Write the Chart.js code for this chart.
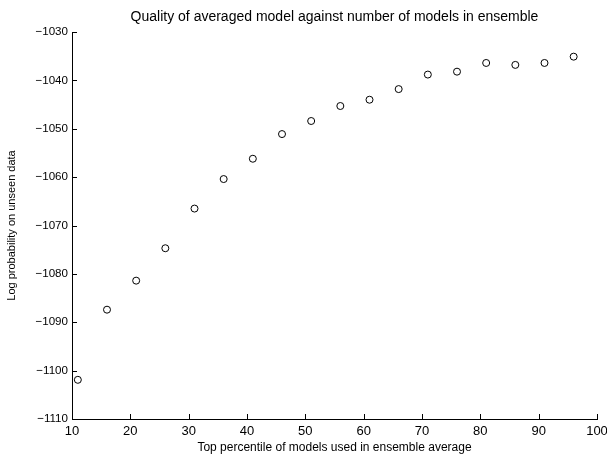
<!DOCTYPE html>
<html>
<head>
<meta charset="utf-8">
<script src="https://cdn.jsdelivr.net/npm/chart.js@4.4.1/dist/chart.umd.min.js"></script>
<style>
  html, body { margin: 0; padding: 0; background: #fff; }
  #wrap { width: 607px; height: 459px; }
</style>
</head>
<body>
<div id="wrap"><canvas id="chart" width="607" height="459"></canvas></div>
<script>
var percentiles = [11, 16, 21, 26, 31, 36, 41, 46, 51, 56, 61, 66, 71, 76, 81, 86, 91, 96];
var logProb = [-1101.9, -1087.4, -1081.4, -1074.7, -1066.5, -1060.4, -1056.2, -1051.1, -1048.4,
  -1045.3, -1044.0, -1041.8, -1038.8, -1038.2, -1036.4, -1036.8, -1036.4, -1035.1];
var xTicks = [10, 20, 30, 40, 50, 60, 70, 80, 90, 100];
var yTicks = [-1110, -1100, -1090, -1080, -1070, -1060, -1050, -1040, -1030];

var fontFamily = "'Liberation Sans', Arial, Helvetica, sans-serif";

var points = percentiles.map(function (p, i) { return { x: p, y: logProb[i] }; });

// matlab style: tick marks point into the plot, title drawn above
var matlabAxes = {
  id: "matlabAxes",
  afterDraw: function (chart) {
    var ctx = chart.ctx;
    var area = chart.chartArea;
    var xs = chart.scales.x, ys = chart.scales.y;
    ctx.save();
    ctx.strokeStyle = "#000";
    ctx.lineWidth = 1;
    ctx.beginPath();
    xTicks.forEach(function (v) {
      var px = Math.round(xs.getPixelForValue(v)) + 0.5;
      ctx.moveTo(px, area.bottom);
      ctx.lineTo(px, area.bottom - 5);
    });
    yTicks.forEach(function (v) {
      var py = Math.round(ys.getPixelForValue(v)) + 0.5;
      ctx.moveTo(area.left, py);
      ctx.lineTo(area.left + 5, py);
    });
    ctx.stroke();
    ctx.fillStyle = "#000";
    ctx.font = "14px " + fontFamily;
    ctx.textAlign = "center";
    ctx.textBaseline = "middle";
    ctx.fillText("Quality of averaged model against number of models in ensemble",
      (area.left + area.right) / 2, 17);
    ctx.restore();
  }
};

new Chart(document.getElementById("chart"), {
  type: "scatter",
  data: {
    datasets: [{
      data: points,
      pointStyle: "circle",
      pointRadius: 3.5,
      pointHoverRadius: 3.5,
      borderColor: "#000",
      backgroundColor: "rgba(0,0,0,0)",
      borderWidth: 1
    }]
  },
  options: {
    responsive: false,
    animation: false,
    layout: { padding: { top: 32, right: 10, left: 0, bottom: 0 } },
    plugins: { legend: { display: false }, tooltip: { enabled: false } },
    scales: {
      x: {
        type: "linear",
        min: 10,
        max: 100,
        afterBuildTicks: function (scale) {
          scale.ticks = xTicks.map(function (v) { return { value: v }; });
        },
        afterFit: function (scale) {
          scale.height = 40;
          scale.paddingLeft = 0;
          scale.paddingRight = 0;
        },
        grid: { display: false, drawTicks: false },
        border: { display: true, color: "#000", width: 1 },
        ticks: {
          color: "#000",
          padding: 5,
          maxRotation: 0,
          font: { family: fontFamily, size: 13 }
        },
        title: {
          display: true,
          text: "Top percentile of models used in ensemble average",
          color: "#000",
          padding: { top: 0, bottom: 4 },
          font: { family: fontFamily, size: 12 }
        }
      },
      y: {
        type: "linear",
        min: -1110,
        max: -1030,
        afterBuildTicks: function (scale) {
          scale.ticks = yTicks.map(function (v) { return { value: v }; });
        },
        afterFit: function (scale) {
          scale.width = 72;
          scale.paddingTop = 0;
          scale.paddingBottom = 0;
        },
        grid: { display: false, drawTicks: false },
        border: { display: true, color: "#000", width: 1 },
        ticks: {
          color: "#000",
          padding: 4,
          font: { family: fontFamily, size: 11.6 },
          callback: function (v) { return String(v).replace("-", "\u2212"); }
        },
        title: {
          display: true,
          text: "Log probability on unseen data",
          color: "#000",
          padding: { top: 5, bottom: 0 },
          font: { family: fontFamily, size: 11 }
        }
      }
    }
  },
  plugins: [matlabAxes]
});
</script>
</body>
</html>
